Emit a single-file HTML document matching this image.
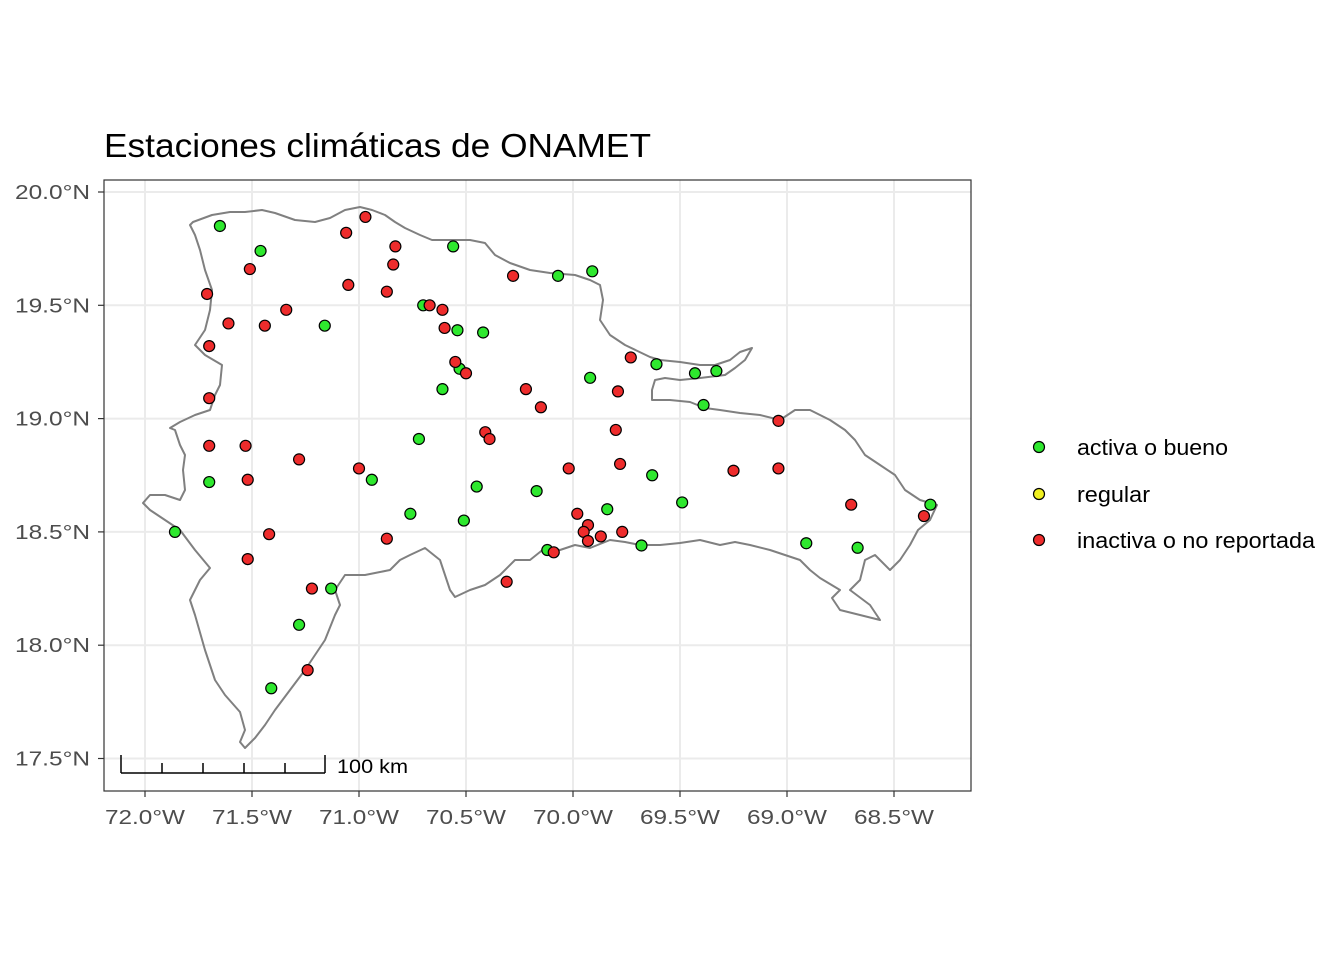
<!DOCTYPE html>
<html><head><meta charset="utf-8"><style>
body{margin:0;background:#fff;}
svg text{font-family:"Liberation Sans",sans-serif;}
</style></head><body>
<svg width="1344" height="960" viewBox="0 0 1344 960">
<rect width="1344" height="960" fill="#fff"/>
<text x="104" y="157" font-size="33" fill="#000" textLength="547" lengthAdjust="spacingAndGlyphs">Estaciones climáticas de ONAMET</text>
<g id="grid"></g>
<polygon id="island" fill="none" stroke="#808080" stroke-width="2" stroke-linejoin="round" points="193,222 212,215 230,212 245,212 262,210 275,213 295,220 315,222 330,218 345,210 360,207 372,210 385,215 395,222 405,228 420,235 432,240 450,240 470,240 485,243 495,255 510,263 530,270 550,273 575,275 590,280 600,285 603,300 600,320 610,335 625,345 650,357 660,360 680,362 700,365 715,365 730,360 740,352 752,348 745,360 735,368 725,375 700,378 680,380 665,378 655,380 652,390 652,400 670,400 690,402 705,408 720,410 740,413 760,415 780,420 795,410 810,410 830,420 845,430 855,440 865,455 880,465 895,475 905,490 920,500 937,505 930,520 918,530 910,545 900,560 890,570 875,555 865,560 860,580 850,590 870,605 880,620 860,615 840,610 832,598 840,590 820,578 810,570 800,560 785,555 770,550 750,545 735,542 720,545 700,540 680,543 660,545 640,545 625,542 610,540 590,548 575,545 560,550 545,548 530,560 515,560 500,575 485,585 470,590 455,597 450,590 445,575 440,560 425,548 410,555 400,560 390,570 380,572 365,575 345,575 335,590 340,605 335,615 325,640 315,655 305,670 290,690 275,710 265,725 255,738 245,748 240,742 245,730 240,712 225,695 215,680 205,650 195,615 190,600 200,580 210,568 195,550 180,530 165,520 150,510 143,503 150,495 165,495 180,500 185,490 183,470 185,455 180,445 175,430 170,428 180,422 195,415 210,410 215,395 220,385 222,365 205,355 195,345 205,330 210,310 212,290 205,270 200,250 195,235 190,225"/>
<rect x="104" y="180" width="867" height="611" fill="none" stroke="#333" stroke-width="1.2"/>
<g id="axes"></g>
<g id="pts"></g>
<g stroke="#000" stroke-width="1.5" fill="none">
<line x1="121" y1="773" x2="325" y2="773"/>
<line x1="121" y1="755" x2="121" y2="773"/><line x1="325" y1="755" x2="325" y2="773"/>
<line x1="162" y1="763" x2="162" y2="773"/><line x1="203" y1="763" x2="203" y2="773"/>
<line x1="244" y1="763" x2="244" y2="773"/><line x1="285" y1="763" x2="285" y2="773"/>
</g>
<text x="337" y="773" font-size="19" fill="#000" textLength="71" lengthAdjust="spacingAndGlyphs">100 km</text>
<g>
<circle cx="1039" cy="447" r="5.5" fill="#2ee82e" stroke="#000" stroke-width="1.2"/>
<text x="1077" y="455" font-size="22" textLength="151" lengthAdjust="spacingAndGlyphs">activa o bueno</text>
<circle cx="1039" cy="494" r="5.5" fill="#f0f020" stroke="#000" stroke-width="1.2"/>
<text x="1077" y="502" font-size="22" textLength="73" lengthAdjust="spacingAndGlyphs">regular</text>
<circle cx="1039" cy="540" r="5.5" fill="#ee2c2c" stroke="#000" stroke-width="1.2"/>
<text x="1077" y="548" font-size="22" textLength="238" lengthAdjust="spacingAndGlyphs">inactiva o no reportada</text>
</g>
</svg>
<script>
const lonTicks=[72.0,71.5,71.0,70.5,70.0,69.5,69.0,68.5];
const latTicks=[20.0,19.5,19.0,18.5,18.0,17.5];
const activeW=[71.65,71.46,70.56,70.07,69.91,70.70,70.54,70.42,71.16,70.53,70.61,69.92,69.61,69.43,69.33,69.39,70.72,71.70,70.94,70.45,70.17,69.63,69.49,70.76,70.51,69.84,71.86,70.12,69.68,68.91,68.67,68.33,71.13,71.28,71.41];
const activeN=[19.85,19.74,19.76,19.63,19.65,19.50,19.39,19.38,19.41,19.22,19.13,19.18,19.24,19.20,19.21,19.06,18.91,18.72,18.73,18.70,18.68,18.75,18.63,18.58,18.55,18.60,18.50,18.42,18.44,18.45,18.43,18.62,18.25,18.09,17.81];
const inactiveW=[70.97,71.06,70.83,70.84,71.51,71.05,70.87,70.28,71.71,71.61,71.44,71.34,70.67,70.61,70.60,71.70,70.55,70.50,70.22,70.15,69.79,69.73,71.70,70.41,70.39,69.80,71.70,71.53,71.28,71.00,70.02,69.78,69.25,69.04,69.04,71.52,71.42,70.87,69.98,69.93,69.95,69.93,69.87,69.77,70.09,68.70,68.36,71.52,71.22,70.31,71.24];
const inactiveN=[19.89,19.82,19.76,19.68,19.66,19.59,19.56,19.63,19.55,19.42,19.41,19.48,19.50,19.48,19.40,19.32,19.25,19.20,19.13,19.05,19.12,19.27,19.09,18.94,18.91,18.95,18.88,18.88,18.82,18.78,18.78,18.80,18.77,18.78,18.99,18.73,18.49,18.47,18.58,18.53,18.50,18.46,18.48,18.50,18.41,18.62,18.57,18.38,18.25,18.28,17.89];
const NS='http://www.w3.org/2000/svg';
function xS(w){return 145+(72-w)*214;}
function yS(n){return 192+(20-n)*226.6;}
const grid=document.getElementById('grid'),axes=document.getElementById('axes'),pts=document.getElementById('pts');
function mk(tag,attrs,parent){const e=document.createElementNS(NS,tag);for(const k in attrs)e.setAttribute(k,attrs[k]);parent.appendChild(e);return e;}
lonTicks.forEach(w=>{
  const l=mk('line',{x1:xS(w),x2:xS(w),y1:180,y2:791,stroke:'#ebebeb','stroke-width':2},grid);
  
  
  const t=mk('line',{x1:xS(w),x2:xS(w),y1:791,y2:797,stroke:'#333','stroke-width':1.2},axes);
  
  
  const tx=mk('text',{x:xS(w)-40,y:824,'font-size':20,fill:'#4d4d4d',textLength:80,lengthAdjust:'spacingAndGlyphs'},axes);
  tx.textContent=w.toFixed(1)+'°W';
  
  
});
latTicks.forEach(n=>{
  const l=mk('line',{x1:104,x2:971,y1:yS(n),y2:yS(n),stroke:'#ebebeb','stroke-width':2},grid);
  
  
  const t=mk('line',{x1:98,x2:104,y1:yS(n),y2:yS(n),stroke:'#333','stroke-width':1.2},axes);
  
  
  const tx=mk('text',{x:15,y:yS(n)+7,'font-size':20,fill:'#4d4d4d',textLength:75,lengthAdjust:'spacingAndGlyphs'},axes);
  tx.textContent=n.toFixed(1)+'°N';
  
  
});
function drawPts(W,N,color,name){
  W.forEach((w,i)=>{
    const c=mk('circle',{cx:xS(w),cy:yS(N[i]),r:5.5,fill:color,stroke:'#000','stroke-width':1.2},pts);
    
    
  });
}
drawPts(activeW,activeN,'#2ee82e','station-active');
drawPts(inactiveW,inactiveN,'#ee2c2c','station-inactive');
</script>
</body></html>
